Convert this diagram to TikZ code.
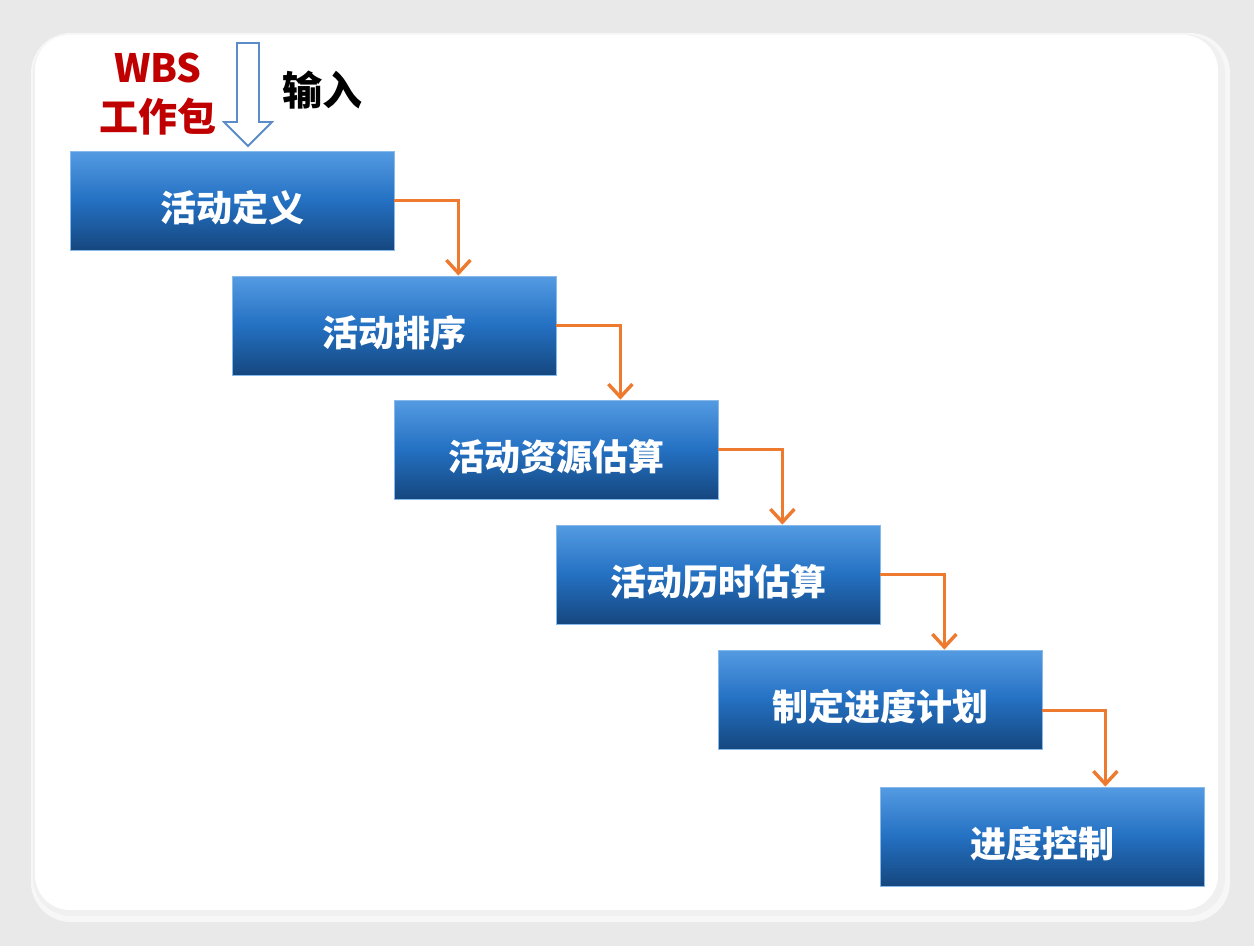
\documentclass[tikz,border=0pt]{standalone}
\usepackage{fontspec}
\newfontfamily\cjk{Noto Sans CJK SC}
\usetikzlibrary{arrows.meta,calc}
\definecolor{bgray}{HTML}{E9E9E9}
\definecolor{btop}{HTML}{549BE2}
\definecolor{bmid}{HTML}{2470C2}
\definecolor{bbot}{HTML}{15477F}
\definecolor{conncol}{HTML}{EE7A2F}
\definecolor{wbsred}{HTML}{C00000}
\definecolor{hollow}{HTML}{5B8BC8}
\newcommand\lowtxt[1]{\raisebox{-7pt}[\height][\depth]{#1}}
\tikzset{
  stepbox/.style={rectangle, minimum width=324pt, minimum height=99pt, inner sep=0pt,
    top color=btop, bottom color=bbot, middle color=bmid, draw=btop!70, line width=0.8pt,
    text=white, font=\cjk\bfseries\fontsize{36}{40}\selectfont},
  conn/.style={draw=conncol, line width=3.6pt, -{Straight Barb[length=13pt,width=24pt,line width=3.4pt]}},
  redtext/.style={text=wbsred, inner sep=0pt, font=\cjk\bfseries\fontsize{39}{44}\selectfont},
  blacktext/.style={text=black, inner sep=0pt, font=\cjk\bfseries\fontsize{40}{44}\selectfont}
}
\begin{document}
\begin{tikzpicture}[x=1pt,y=-1pt]
\useasboundingbox (0,0) rectangle (1254,946);
\fill[bgray] (0,0) rectangle (1254,946);
\fill[black!3, rounded corners=40] (31,33) rectangle (1230,922);
\fill[black!6, rounded corners=38] (33,35) rectangle (1225,916);
\fill[white, rounded corners=35] (35,35) rectangle (1218,910);

\node[stepbox] (b1) at (232,200.5) {\lowtxt{活动定义}};
\node[stepbox] (b2) at (394,325.5) {\lowtxt{活动排序}};
\node[stepbox] (b3) at (556,449.5) {\lowtxt{活动资源估算}};
\node[stepbox] (b4) at (718,574.5) {\lowtxt{活动历时估算}};
\node[stepbox] (b5) at (880,699.5) {\lowtxt{制定进度计划}};
\node[stepbox] (b6) at (1042.5,836.5) {\lowtxt{进度控制}};

\draw[conn] (b1.east) -- ++(64,0) coordinate (t1) -- (t1 |- b2.north);
\draw[conn] (b2.east) -- ++(64,0) coordinate (t2) -- (t2 |- b3.north);
\draw[conn] (b3.east) -- ++(64,0) coordinate (t3) -- (t3 |- b4.north);
\draw[conn] (b4.east) -- ++(64,0) coordinate (t4) -- (t4 |- b5.north);
\draw[conn] ($(b5.east)+(0,11)$) -- ++(63,0) coordinate (t5) -- (t5 |- b6.north);

\draw[hollow, line width=1.8pt, fill=white, line join=miter]
  (237,43) -- (259,43) -- (259,122) -- (272,122) -- (248,146) -- (224,122) -- (237,122) -- cycle;

\node[redtext] (wbs) at (158,68) {WBS};
\node[redtext] (pkg) at (158,117) {工作包};
\node[blacktext] (input) at (322,90) {输入};
\end{tikzpicture}
\end{document}
